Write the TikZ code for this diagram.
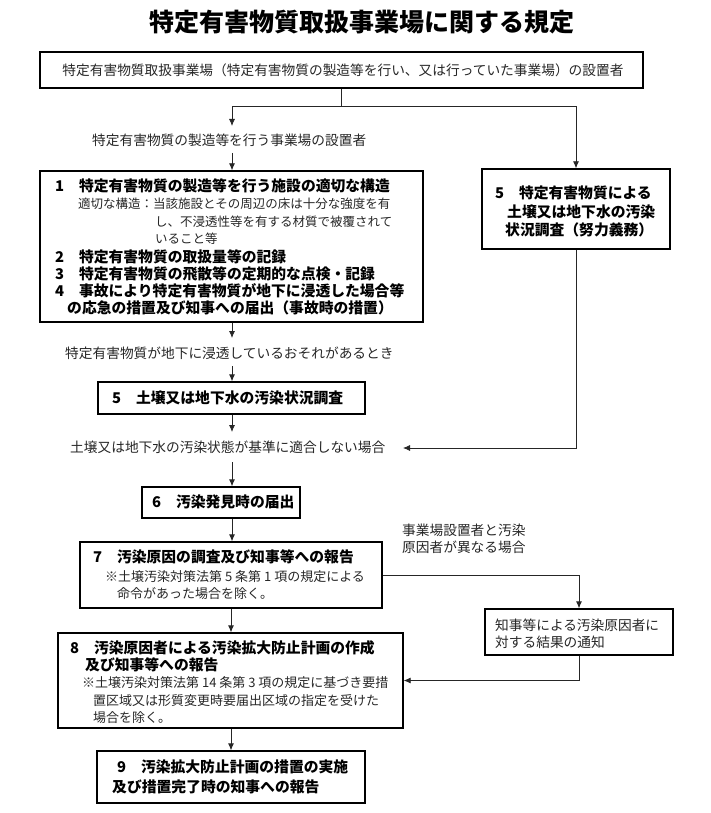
\documentclass[tikz,border=0pt]{standalone}
\usepackage{fontspec}
\setmainfont{Noto Sans CJK JP}
\usetikzlibrary{arrows.meta}
\tikzset{
  box/.style={draw=black, line width=1.3pt, inner sep=0pt},
  conn/.style={draw=black!85, line width=0.8pt},
  arr/.style={conn, -{Latex[length=7pt,width=6pt]}},
  bt/.style={anchor=west, inner sep=0pt, font=\fontsize{14.8}{16}\selectfont\bfseries},
  nt/.style={anchor=west, inner sep=0pt, text=black!85, font=\fontsize{13}{15}\selectfont},
  ntb/.style={anchor=west, inner sep=0pt, text=black!85, font=\fontsize{12.5}{15}\selectfont},
  lab/.style={anchor=west, inner sep=0pt, text=black!85, font=\fontsize{13.7}{16}\selectfont},
}
\begin{document}
\begin{tikzpicture}[x=1pt,y=-1pt]
\useasboundingbox (0,0) rectangle (710,813);
% title
\node[inner sep=0pt, font=\fontsize{25}{30}\selectfont\bfseries] (title) at (362,22) {特定有害物質取扱事業場に関する規定};
% boxes
\node[box, minimum width=603pt, minimum height=36pt] (top) at (341.5,70) {};
\node[inner sep=0pt, text=black!85, font=\fontsize{13.7}{16}\selectfont] (toptxt) at (343,70) {特定有害物質取扱事業場（特定有害物質の製造等を行い、又は行っていた事業場）の設置者};
\node[box, minimum width=383pt, minimum height=151pt] (b1) at (231.5,246.5) {};
\node[box, minimum width=188pt, minimum height=80pt] (b5r) at (576,209) {};
\node[box, minimum width=267pt, minimum height=32pt] (b5) at (231.5,398) {};
\node[box, minimum width=158pt, minimum height=31pt] (b6) at (221,502.5) {};
\node[box, minimum width=302pt, minimum height=66pt] (b7) at (231,575) {};
\node[box, minimum width=188pt, minimum height=46pt] (bn) at (579,632) {};
\node[box, minimum width=345pt, minimum height=95pt] (b8) at (230.5,680.5) {};
\node[box, minimum width=268pt, minimum height=52pt] (b9) at (231,777) {};
% labels
\node[lab] (l1) at (92,140) {特定有害物質の製造等を行う事業場の設置者};
\node[lab] (l2) at (65,353) {特定有害物質が地下に浸透しているおそれがあるとき};
\node[lab] (l3) at (70,447) {土壌又は地下水の汚染状態が基準に適合しない場合};
\node[lab] (l4a) at (402,530) {事業場設置者と汚染};
\node[lab] (l4b) at (402,547) {原因者が異なる場合};
% box 1 text
\node[bt] (t1a) at (55,186) {1　特定有害物質の製造等を行う施設の適切な構造};
\node[ntb] (t1b) at (78,204) {適切な構造：当該施設とその周辺の床は十分な強度を有};
\node[ntb] (t1c) at (155,222) {し、不浸透性等を有する材質で被覆されて};
\node[ntb] (t1d) at (155,239) {いること等};
\node[bt] (t1e) at (55,257) {2　特定有害物質の取扱量等の記録};
\node[bt] (t1f) at (55,274) {3　特定有害物質の飛散等の定期的な点検・記録};
\node[bt] (t1g) at (55,291) {4　事故により特定有害物質が地下に浸透した場合等};
\node[bt] (t1h) at (67,308) {の応急の措置及び知事への届出（事故時の措置）};
% box 5 right
\node[bt] (t5a) at (495,193) {5　特定有害物質による};
\node[bt] (t5b) at (507,212) {土壌又は地下水の汚染};
\node[bt] (t5c) at (505,230) {状況調査（努力義務）};
% box 5
\node[bt] (t5) at (112,398) {5　土壌又は地下水の汚染状況調査};
% box 6
\node[bt] (t6) at (152,502) {6　汚染発見時の届出};
% box 7
\node[bt] (t7a) at (93,557) {7　汚染原因の調査及び知事等への報告};
\node[nt] (t7b) at (105,577) {※土壌汚染対策法第 5 条第 1 項の規定による};
\node[nt] (t7c) at (117,594) {命令があった場合を除く。};
% notice box
\node[lab] (tna) at (495,625) {知事等による汚染原因者に};
\node[lab] (tnb) at (495,642) {対する結果の通知};
% box 8
\node[bt] (t8a) at (70,648) {8　汚染原因者による汚染拡大防止計画の作成};
\node[bt] (t8b) at (85,665) {及び知事等への報告};
\node[nt] (t8c) at (82,683) {※土壌汚染対策法第 14 条第 3 項の規定に基づき要措};
\node[nt] (t8d) at (93,701) {置区域又は形質変更時要届出区域の指定を受けた};
\node[nt] (t8e) at (93,718) {場合を除く。};
% box 9
\node[bt] (t9a) at (117,767) {9　汚染拡大防止計画の措置の実施};
\node[bt] (t9b) at (112,787) {及び措置完了時の知事への報告};
% connector coordinates
\coordinate (j) at (341.5,106);
\coordinate (a1) at (232,126);
\coordinate (a1s) at (232,153);
\coordinate (a2) at (232,338);
\coordinate (a2s) at (232,366);
\coordinate (a3) at (232,432);
\coordinate (a3s) at (232,462);
\coordinate (a3r) at (403,448);
% connectors
\draw[conn] (top.south) -- (j);
\draw[arr] (j) -| (a1);
\draw[arr] (j) -| (b5r.north);
\draw[arr] (a1s) -- (a1s |- b1.north);
\draw[arr] (a2 |- b1.south) -- (a2);
\draw[arr] (a2s) -- (a2s |- b5.north);
\draw[arr] (a3 |- b5.south) -- (a3);
\draw[arr] (b5r.south) |- (a3r);
\draw[arr] (a3s) -- (a3s |- b6.north);
\draw[arr] (a3s |- b6.south) -- (a3s |- b7.north);
\draw[arr] (b7.east) -| (bn.north);
\draw[arr] (bn.south) |- (b8.east);
\draw[arr] (b7.south) -- (b7.south |- b8.north);
\draw[arr] (b9.north |- b8.south) -- (b9.north);
\end{tikzpicture}
\end{document}
